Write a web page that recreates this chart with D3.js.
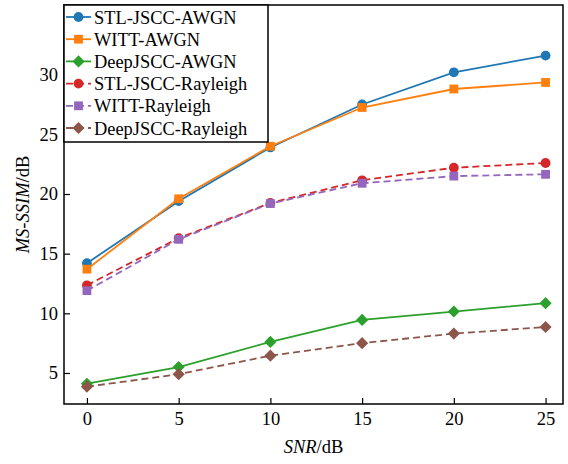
<!DOCTYPE html>
<html><head><meta charset="utf-8">
<script src="https://cdn.jsdelivr.net/npm/d3@7"></script>
<style>body{margin:0;background:#fff}svg{display:block}text{font-family:"Liberation Serif","Times New Roman",serif}</style>
</head><body>
<script>
const snr = [0, 5, 10, 15, 20, 25];
const xTicks = [0, 5, 10, 15, 20, 25];
const yTicks = [5, 10, 15, 20, 25, 30];
const seriesNames = ["STL-JSCC-AWGN","WITT-AWGN","DeepJSCC-AWGN","STL-JSCC-Rayleigh","WITT-Rayleigh","DeepJSCC-Rayleigh"];
const stlAwgn = [14.2, 19.4, 23.9, 27.5, 30.2, 31.6];
const wittAwgn = [13.7, 19.6, 24.0, 27.25, 28.8, 29.35];
const deepAwgn = [4.1, 5.5, 7.6, 9.45, 10.15, 10.85];
const stlRay = [12.35, 16.3, 19.25, 21.15, 22.2, 22.6];
const wittRay = [11.9, 16.2, 19.2, 20.9, 21.5, 21.65];
const deepRay = [3.85, 4.9, 6.45, 7.5, 8.3, 8.85];

const colors = ["#1f77b4","#ff7f0e","#2ca02c","#d62728","#9467bd","#8c564b"];
const shapes = ["circle","square","diamond","circle","square","diamond"];
const dashed = [false,false,false,true,true,true];
const allVals = [stlAwgn, wittAwgn, deepAwgn, stlRay, wittRay, deepRay];

function marker(g, shape, color) {
  if (shape === "circle") g.append("circle").attr("r", 4.9).attr("fill", color);
  else if (shape === "square") g.append("rect").attr("x",-4.4).attr("y",-4.4).attr("width",8.8).attr("height",8.8).attr("fill", color);
  else g.append("rect").attr("x",-4.3).attr("y",-4.3).attr("width",8.6).attr("height",8.6).attr("transform","rotate(45)").attr("fill", color);
}

const W = 568, H = 464;
const L = 64, R = 563, T = 5, B = 404;
const svg = d3.select("body").append("svg").attr("width", W).attr("height", H);
const x = d3.scaleLinear().domain([-1.25, 25.95]).range([L, R]);
const y = d3.scaleLinear().domain([2.4, 35.84]).range([B, T]);

svg.append("g").attr("transform", `translate(0,${B})`)
  .call(d3.axisBottom(x).tickValues(xTicks).tickSize(-6).tickPadding(8).tickFormat(d3.format("d")))
  .call(g => { g.select(".domain").remove(); g.selectAll("line").attr("stroke","#000").attr("stroke-width",1.2);
    g.selectAll("text").attr("font-size", 18.5).attr("fill","#000"); });
svg.append("g").attr("transform", `translate(${L},0)`)
  .call(d3.axisLeft(y).tickValues(yTicks).tickSize(-6).tickPadding(6).tickFormat(d3.format("d")))
  .call(g => { g.select(".domain").remove(); g.selectAll("line").attr("stroke","#000").attr("stroke-width",1.2);
    g.selectAll("text").attr("font-size", 18.5).attr("fill","#000"); });

const line = d3.line().x((d,i) => x(snr[i])).y(d => y(d));
allVals.forEach((vals, s) => {
  svg.append("path").datum(vals).attr("d", line).attr("fill","none")
    .attr("stroke", colors[s]).attr("stroke-width", 1.8)
    .attr("stroke-dasharray", dashed[s] ? "7,4" : null);
  svg.append("g").selectAll("g").data(vals).join("g")
    .attr("transform", (d,i) => `translate(${x(snr[i])},${y(d)})`)
    .each(function() { marker(d3.select(this), shapes[s], colors[s]); });
});

svg.append("rect").attr("x", L).attr("y", T).attr("width", R-L).attr("height", B-T)
  .attr("fill","none").attr("stroke","#000").attr("stroke-width",1.5);

const lg = svg.append("g");
lg.append("rect").attr("x", L).attr("y", T).attr("width", 204).attr("height", 137)
  .attr("fill","#fff").attr("stroke","#000").attr("stroke-width",1.5);
seriesNames.forEach((name, s) => {
  const cy = 17 + s*22.2;
  lg.append("line").attr("x1", 66).attr("x2", 91).attr("y1", cy).attr("y2", cy)
    .attr("stroke", colors[s]).attr("stroke-width", 1.8).attr("stroke-dasharray", dashed[s] ? "7,4" : null);
  marker(lg.append("g").attr("transform", `translate(78.5,${cy})`), shapes[s], colors[s]);
  lg.append("text").attr("x", 94).attr("y", cy + 6.5).attr("font-size", 18.4).attr("fill","#000").text(name);
});

const xt = svg.append("text").attr("x", (L+R)/2).attr("y", 453).attr("text-anchor","middle").attr("font-size", 18.5);
xt.append("tspan").attr("font-style","italic").text("SNR");
xt.append("tspan").text("/dB");
const yt = svg.append("text").attr("transform", `translate(29,${(T+B)/2}) rotate(-90)`).attr("text-anchor","middle").attr("font-size", 18.5);
yt.append("tspan").attr("font-style","italic").text("MS-SSIM");
yt.append("tspan").text("/dB");
</script>
</body></html>
